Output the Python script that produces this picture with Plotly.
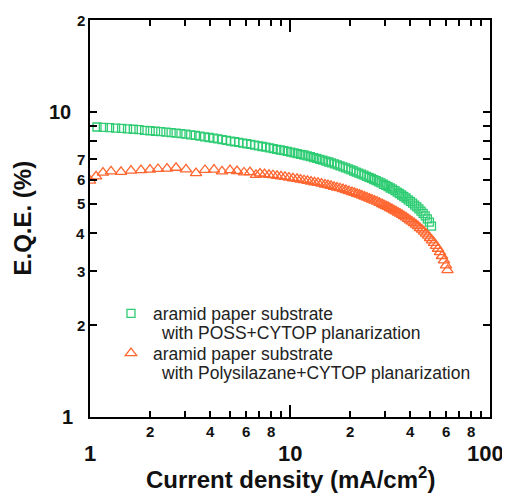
import math
import plotly.graph_objects as go

# ---------------- data ----------------
poss_current = [1.084, 1.166, 1.252, 1.343, 1.439, 1.540, 1.646, 1.758, 1.875, 1.998,
                2.126, 2.259, 2.399, 2.544, 2.695, 2.851, 3.017, 3.188, 3.365, 3.548,
                3.741, 3.940, 4.145, 4.360, 4.581, 4.808, 5.047, 5.291, 5.546, 5.808,
                6.081, 6.361, 6.653, 6.950, 7.261, 7.577, 7.907, 8.241, 8.590, 8.944,
                9.311, 9.694, 10.08, 10.48, 10.88, 11.31, 11.75, 12.19, 12.65, 13.12,
                13.60, 14.09, 14.59, 15.10, 15.62, 16.14, 16.69, 17.24, 17.80, 18.39,
                18.97, 19.57, 20.18, 20.80, 21.43, 22.08, 22.75, 23.42, 24.10, 24.81,
                25.53, 26.24, 26.98, 27.73, 28.51, 29.31, 30.10, 30.90, 31.73, 32.58,
                33.46, 34.36, 35.24, 36.14, 37.07, 38.02, 38.99, 39.99, 41.02, 42.02,
                43.05, 44.10, 45.19, 46.29, 47.42, 48.59, 49.77, 50.99]
poss_eqe = [8.92, 8.90, 8.88, 8.85, 8.83, 8.80, 8.77, 8.74, 8.70, 8.67,
            8.64, 8.61, 8.58, 8.55, 8.52, 8.48, 8.45, 8.41, 8.37, 8.33,
            8.28, 8.24, 8.20, 8.15, 8.11, 8.06, 8.02, 7.98, 7.94, 7.90,
            7.86, 7.82, 7.78, 7.74, 7.70, 7.66, 7.62, 7.58, 7.54, 7.50,
            7.46, 7.42, 7.38, 7.34, 7.30, 7.26, 7.22, 7.17, 7.13, 7.08,
            7.04, 6.99, 6.95, 6.90, 6.85, 6.80, 6.75, 6.70, 6.65, 6.60,
            6.55, 6.50, 6.45, 6.40, 6.35, 6.30, 6.25, 6.20, 6.15, 6.10,
            6.05, 6.00, 5.95, 5.90, 5.85, 5.79, 5.74, 5.69, 5.63, 5.58,
            5.52, 5.46, 5.40, 5.34, 5.28, 5.22, 5.15, 5.09, 5.02, 4.95,
            4.88, 4.81, 4.73, 4.65, 4.56, 4.46, 4.35, 4.22]

psz_current = [1.000, 1.072, 1.161, 1.274, 1.429, 1.603, 1.799, 1.995, 2.188, 2.427,
               2.692, 3.020, 3.388, 3.758, 4.169, 4.571, 5.012, 5.433, 5.888, 6.310,
               6.761, 7.079, 7.457, 7.852, 8.222, 8.610, 9.016, 9.441, 9.886, 10.35,
               10.84, 11.29, 11.75, 12.23, 12.74, 13.26, 13.80, 14.37, 14.96, 15.49,
               16.03, 16.60, 17.18, 17.78, 18.41, 19.05, 19.72, 20.42, 21.01, 21.63,
               22.26, 22.91, 23.58, 24.27, 24.98, 25.70, 26.45, 27.23, 28.02, 28.84,
               29.51, 30.20, 30.90, 31.62, 32.36, 33.11, 33.88, 34.67, 35.48, 36.31,
               37.15, 38.02, 38.90, 39.81, 40.74, 41.69, 42.66, 43.65, 44.67, 45.71,
               46.77, 47.86, 48.98, 50.12, 51.29, 52.48, 53.70, 54.95, 56.23, 57.54,
               58.88, 60.26, 61.30]
psz_eqe = [5.95, 6.15, 6.32, 6.38, 6.36, 6.42, 6.44, 6.47, 6.50, 6.52,
           6.56, 6.48, 6.30, 6.45, 6.47, 6.38, 6.44, 6.40, 6.33, 6.35,
           6.22, 6.28, 6.25, 6.22, 6.20, 6.17, 6.15, 6.12, 6.09, 6.06,
           6.03, 6.00, 5.97, 5.94, 5.91, 5.88, 5.85, 5.82, 5.78, 5.75,
           5.72, 5.68, 5.65, 5.62, 5.58, 5.54, 5.50, 5.46, 5.43, 5.39,
           5.36, 5.32, 5.28, 5.24, 5.20, 5.16, 5.12, 5.08, 5.03, 4.99,
           4.95, 4.91, 4.88, 4.84, 4.80, 4.76, 4.72, 4.68, 4.64, 4.60,
           4.55, 4.51, 4.46, 4.41, 4.37, 4.32, 4.27, 4.22, 4.16, 4.11,
           4.05, 3.99, 3.93, 3.86, 3.79, 3.72, 3.64, 3.56, 3.47, 3.37,
           3.26, 3.14, 3.03]

legend_line1 = ["aramid paper substrate", "aramid paper substrate"]
legend_line2 = ["with POSS+CYTOP planarization", "with Polysilazane+CYTOP planarization"]

x_major_vals = [1, 10, 100]
x_major_text = ["1", "10", "100"]
x_minor_vals = [2, 3, 4, 5, 6, 7, 8, 9, 20, 30, 40, 50, 60, 70, 80, 90]
x_minor_label_vals = [2, 4, 6, 8, 20, 40, 60, 80]
x_minor_label_text = ["2", "4", "6", "8", "2", "4", "6", "8"]
y_tick_vals = [1, 2, 3, 4, 5, 6, 7, 8, 9, 10, 20]
y_label_vals = [1, 2, 3, 4, 5, 6, 7, 10, 20]
y_label_text = ["1", "2", "3", "4", "5", "6", "7", "10", "2"]

GREEN = "rgb(45,204,115)"
ORANGE = "rgb(255,102,48)"
FONT = "Liberation Sans, Arial, sans-serif"
LEG_FONT = 17.5

fig = go.Figure()
fig.add_trace(go.Scatter(x=poss_current, y=poss_eqe, mode="markers", name=legend_line1[0],
                         legendgroup="a",
                         marker=dict(symbol="square-open", size=8, color=GREEN, line=dict(width=1.3))))
fig.add_trace(go.Scatter(x=psz_current, y=psz_eqe, mode="markers", name=legend_line1[1],
                         legendgroup="b",
                         marker=dict(symbol="triangle-up-open", size=10, color=ORANGE, line=dict(width=1.3))))

annotations = []
for v, t in zip(x_minor_label_vals, x_minor_label_text):
    annotations.append(dict(x=math.log10(v), y=0, xref="x", yref="paper", text="<b>%s</b>" % t,
                            showarrow=False, xanchor="center", yanchor="middle", yshift=-14,
                            font=dict(family=FONT, size=15, color="#111")))
for v, t in zip(x_major_vals, x_major_text):
    annotations.append(dict(x=math.log10(v), y=0, xref="x", yref="paper", text="<b>%s</b>" % t,
                            showarrow=False, xanchor="center", yanchor="middle", yshift=-36,
                            xshift=(-5 if t == "100" else 0),
                            font=dict(family=FONT, size=22, color="#111")))
for v, t in zip(y_label_vals, y_label_text):
    big = t in ("1", "10")
    annotations.append(dict(x=0, y=math.log10(v), xref="paper", yref="y", text="<b>%s</b>" % t,
                            showarrow=False, xanchor="right", yanchor="middle",
                            xshift=(-15 if t == "1" else (-17 if t == "10" else -3)),
                            font=dict(family=FONT, size=(20 if big else 15), color="#111")))
# second lines of the legend entries
for yy, t in zip([0.2105, 0.110], legend_line2):
    annotations.append(dict(x=0.172, y=yy, xref="paper", yref="paper", text=t, showarrow=False,
                            xanchor="left", yanchor="middle",
                            font=dict(family=FONT, size=LEG_FONT, color="#222")))
annotations.append(dict(x=0.5, y=0, xref="paper", yref="paper",
                        text="<b>Current density (mA/cm<sup>2</sup>)</b>", showarrow=False,
                        xanchor="center", yanchor="middle", yshift=-61,
                        font=dict(family=FONT, size=24, color="#111")))
annotations.append(dict(x=0, y=0.5, xref="paper", yref="paper", text="<b>E.Q.E. (%)</b>",
                        showarrow=False, textangle=-90, xanchor="center", yanchor="middle",
                        xshift=-68, font=dict(family=FONT, size=24, color="#111")))

# the page body has an 8px margin, so the figure is 8px smaller than the window
fig.update_layout(
    width=502, height=487,
    margin=dict(l=82, r=20, t=10, b=78),
    paper_bgcolor="white", plot_bgcolor="white",
    font=dict(family=FONT, color="#111"),
    showlegend=True,
    legend=dict(x=0.0475, y=0.306, xanchor="left", yanchor="top", bgcolor="rgba(0,0,0,0)",
                font=dict(family=FONT, size=LEG_FONT, color="#222"), tracegroupgap=14,
                itemwidth=34, traceorder="grouped"),
    annotations=annotations,
)
fig.update_xaxes(type="log", range=[0, 2], showgrid=False, zeroline=False,
                 showline=True, linecolor="black", linewidth=2, mirror="ticks",
                 tickmode="array", tickvals=x_major_vals, ticks="inside", ticklen=12,
                 tickwidth=2, tickcolor="black", showticklabels=False,
                 minor=dict(tickmode="array", tickvals=x_minor_vals, ticks="inside",
                            ticklen=6, tickwidth=2, tickcolor="black", showgrid=False))
fig.update_yaxes(type="log", range=[0, 1.30103], showgrid=False, zeroline=False,
                 showline=True, linecolor="black", linewidth=2, mirror="ticks",
                 tickmode="array", tickvals=y_tick_vals, ticks="inside", ticklen=7,
                 tickwidth=2, tickcolor="black", showticklabels=False)

fig.write_html("out.html")
